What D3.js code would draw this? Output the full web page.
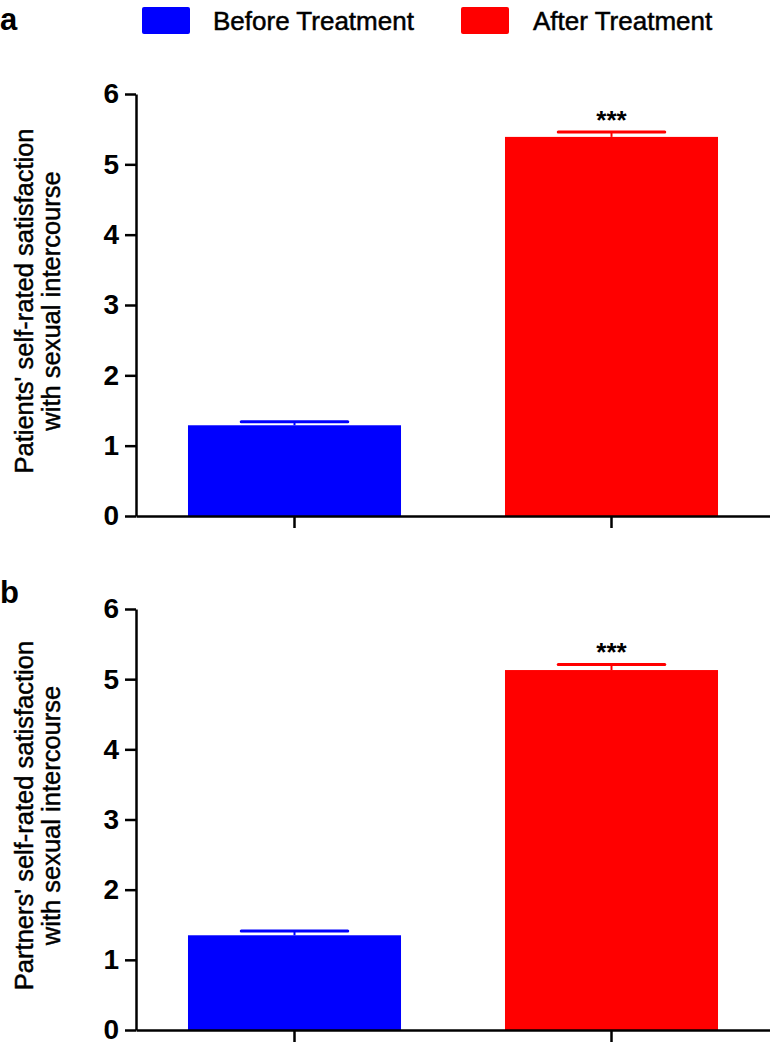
<!DOCTYPE html>
<html>
<head>
<meta charset="utf-8">
<script src="https://cdn.jsdelivr.net/npm/d3@7"></script>
<style>
  html, body { margin: 0; padding: 0; background: #fff; }
  svg { display: block; font-family: "Liberation Sans", Arial, Helvetica, sans-serif; }
</style>
</head>
<body>
<svg id="chart" width="770" height="1044"></svg>
<script>
// ---- Data ----
const groups = ["Before Treatment", "After Treatment"];
const groupColors = ["#0000ff", "#ff0000"];
const patientsMean = [1.29, 5.39];
const patientsSEM = [0.05, 0.07];
const partnersMean = [1.35, 5.13];
const partnersSEM = [0.06, 0.08];
const significance = ["", "***"];
const yTicks = [0, 1, 2, 3, 4, 5, 6];
const panelLetters = ["a", "b"];
const yLabelsA = ["Patients' self-rated satisfaction", "with sexual intercourse"];
const yLabelsB = ["Partners' self-rated satisfaction", "with sexual intercourse"];

// ---- Layout ----
const svg = d3.select("#chart");
const axisX = 136;
const rightX = 770;

const color = d3.scaleOrdinal().domain(groups).range(groupColors);
const x = d3.scaleBand().domain(groups).range([axisX, rightX]).paddingInner(0.328).paddingOuter(0.164);

// Legend
const legendItems = [
  { g: groups[0], sx: 142, tx: 213 },
  { g: groups[1], sx: 461, tx: 533 }
];
legendItems.forEach(d => {
  svg.append("rect").attr("x", d.sx).attr("y", 7).attr("width", 48).attr("height", 27)
    .attr("rx", 2).attr("fill", color(d.g));
  svg.append("text").attr("x", d.tx).attr("y", 30).attr("font-size", 26)
    .attr("fill", "#000").attr("stroke", "#000").attr("stroke-width", 0.5).text(d.g);
});

const panels = [
  { letter: panelLetters[0], letterY: 30, mean: patientsMean, sem: patientsSEM, labels: yLabelsA, y0: 516, y1: 94 },
  { letter: panelLetters[1], letterY: 603, mean: partnersMean, sem: partnersSEM, labels: yLabelsB, y0: 1030, y1: 609 }
];

panels.forEach(p => {
  const g = svg.append("g");
  const y = d3.scaleLinear().domain([0, 6]).range([p.y0, p.y1]);

  g.append("text").attr("x", 0).attr("y", p.letterY).attr("font-size", 31)
    .attr("font-weight", "bold").text(p.letter);

  // bars
  const data = groups.map((grp, i) => ({ grp, mean: p.mean[i], sem: p.sem[i], sig: significance[i] }));
  g.selectAll("rect.bar").data(data).enter().append("rect").attr("class", "bar")
    .attr("x", d => x(d.grp)).attr("width", x.bandwidth())
    .attr("y", d => y(d.mean)).attr("height", d => y(0) - y(d.mean))
    .attr("fill", d => color(d.grp));

  // error bars (upper)
  const capW = x.bandwidth() / 2;
  data.forEach(d => {
    const cx = x(d.grp) + x.bandwidth() / 2;
    g.append("line").attr("x1", cx).attr("x2", cx).attr("y1", y(d.mean)).attr("y2", y(d.mean + d.sem))
      .attr("stroke", color(d.grp)).attr("stroke-width", 2);
    g.append("line").attr("x1", cx - capW / 2).attr("x2", cx + capW / 2)
      .attr("y1", y(d.mean + d.sem)).attr("y2", y(d.mean + d.sem))
      .attr("stroke", color(d.grp)).attr("stroke-width", 3).attr("stroke-linecap", "round");
    if (d.sig) {
      g.append("text").attr("x", cx).attr("y", y(d.mean + d.sem) - 3)
        .attr("text-anchor", "middle").attr("font-size", 26).attr("font-weight", "bold").text(d.sig);
    }
  });

  // y axis
  const yAxis = g.append("g").attr("transform", `translate(${axisX},0)`)
    .call(d3.axisLeft(y).tickValues(yTicks).tickSize(11).tickSizeOuter(0).tickFormat(d3.format("d")));
  yAxis.select(".domain").attr("stroke", "#000").attr("stroke-width", 2.5);
  yAxis.selectAll(".tick line").attr("stroke", "#000").attr("stroke-width", 2.5);
  yAxis.selectAll(".tick text").attr("x", -17).attr("font-size", 28).attr("font-weight", "bold")
    .attr("fill", "#000").attr("font-family", "'Liberation Sans', Arial, sans-serif");

  // x axis
  const xAxis = g.append("g").attr("transform", `translate(0,${p.y0})`)
    .call(d3.axisBottom(x).tickSize(12).tickSizeOuter(0).tickFormat(""));
  xAxis.select(".domain").attr("stroke", "#000").attr("stroke-width", 2.5);
  xAxis.selectAll(".tick line").attr("stroke", "#000").attr("stroke-width", 2.5);

  // y label
  const cy = (p.y0 + p.y1) / 2 - 4;
  p.labels.forEach((t, i) => {
    g.append("text").attr("transform", `translate(${33 + i * 27},${cy}) rotate(-90)`)
      .attr("text-anchor", "middle").attr("font-size", 25.5).attr("fill", "#000")
      .attr("stroke", "#000").attr("stroke-width", 0.45).text(t);
  });
});
</script>
</body>
</html>
